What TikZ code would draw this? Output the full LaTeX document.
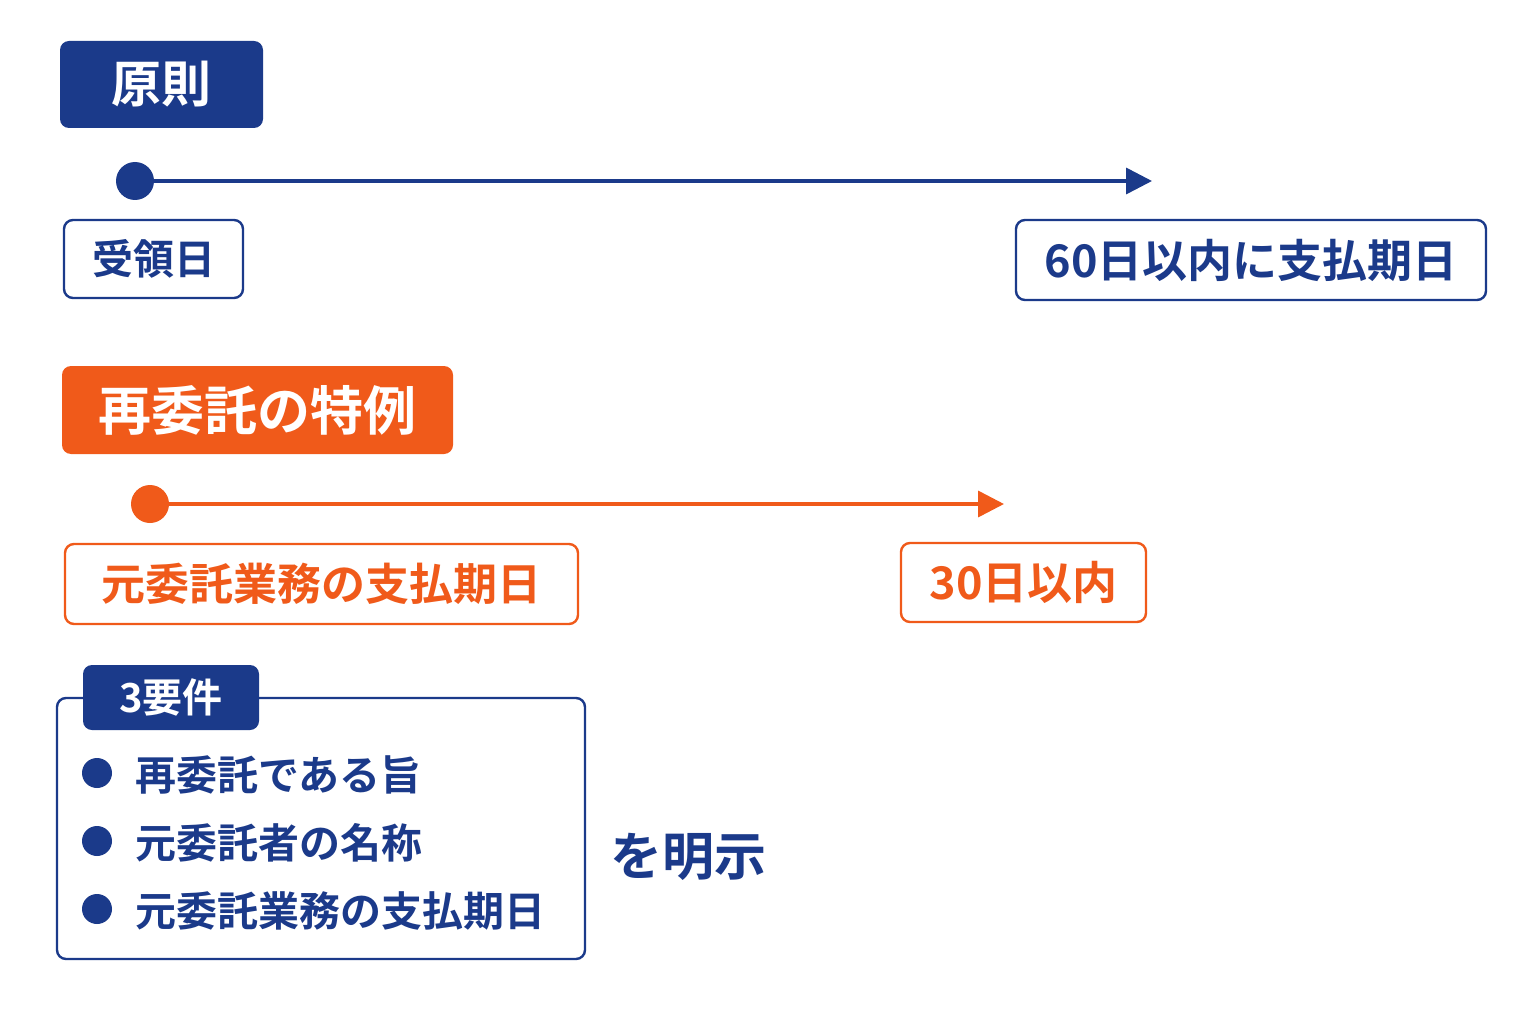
\documentclass[tikz,border=0pt]{standalone}
\usepackage{fontspec}
\setmainfont{Noto Sans CJK JP}[BoldFont={* Bold}]
\newfontfamily\cjk{Noto Sans CJK JP Bold}
\usetikzlibrary{arrows.meta}
\definecolor{navy}{HTML}{1B3A8A}
\definecolor{org}{HTML}{F05A1A}
\begin{document}
\begin{tikzpicture}[x=1pt,y=-1pt,
  tag/.style={rounded corners=9pt,inner sep=0pt,text=white},
  lbl/.style={rounded corners=9pt,draw,line width=2.4pt,fill=white,inner sep=0pt},
  dot/.style={circle,inner sep=0pt,minimum size=#1},
  ln/.style={line width=3.6pt,-{Triangle[length=26pt,width=26pt]}},
  txt/.style={font=\cjk\fontsize{#1}{#1}\selectfont}]
\useasboundingbox[fill=white] (0,0) rectangle (1536,1024);
% 原則
\node[tag,fill=navy,minimum width=203pt,minimum height=87pt,txt=50] (gen) at (161.5,84.5) {原則};
\node[dot=38pt,fill=navy] (d1) at (135,181) {};
\coordinate (e1) at (1152,181);
\draw[navy,ln] (d1.center) -- (e1);
\node[lbl,draw=navy,text=navy,minimum width=179pt,minimum height=78pt,txt=41] (ju) at (153.5,259) {受領日};
\node[lbl,draw=navy,text=navy,minimum width=470pt,minimum height=80pt,txt=45] (r60) at (1251,260) {60日以内に支払期日};
% 特例
\node[tag,fill=org,minimum width=391pt,minimum height=88pt,txt=53] (tok) at (257.5,410) {再委託の特例};
\node[dot=38pt,fill=org] (d2) at (150,504) {};
\coordinate (e2) at (1004,504);
\draw[org,ln] (d2.center) -- (e2);
\node[lbl,draw=org,text=org,minimum width=513pt,minimum height=80pt,txt=44] (moto) at (321.5,584) {元委託業務の支払期日};
\node[lbl,draw=org,text=org,minimum width=245pt,minimum height=79pt,txt=45] (r30) at (1023.5,582.5) {30日以内};
% 3要件
\node[lbl,draw=navy,minimum width=528pt,minimum height=261pt] (box) at (321,828.5) {};
\node[tag,fill=navy,minimum width=176pt,minimum height=65pt,txt=40] (yo) at (171,697.5) {3要件};
\foreach \y/\t [count=\i] in {773/再委託である旨,841/元委託者の名称,909/元委託業務の支払期日}{
  \node[dot=30pt,fill=navy] (b\i) at (97,\y) {};
  \node[anchor=west,text=navy,txt=41,inner sep=0pt] (t\i) at (135,\y+2) {\t};
}
\node[anchor=west,text=navy,txt=52,inner sep=0pt] (mei) at (610,857) {を明示};
\end{tikzpicture}
\end{document}
